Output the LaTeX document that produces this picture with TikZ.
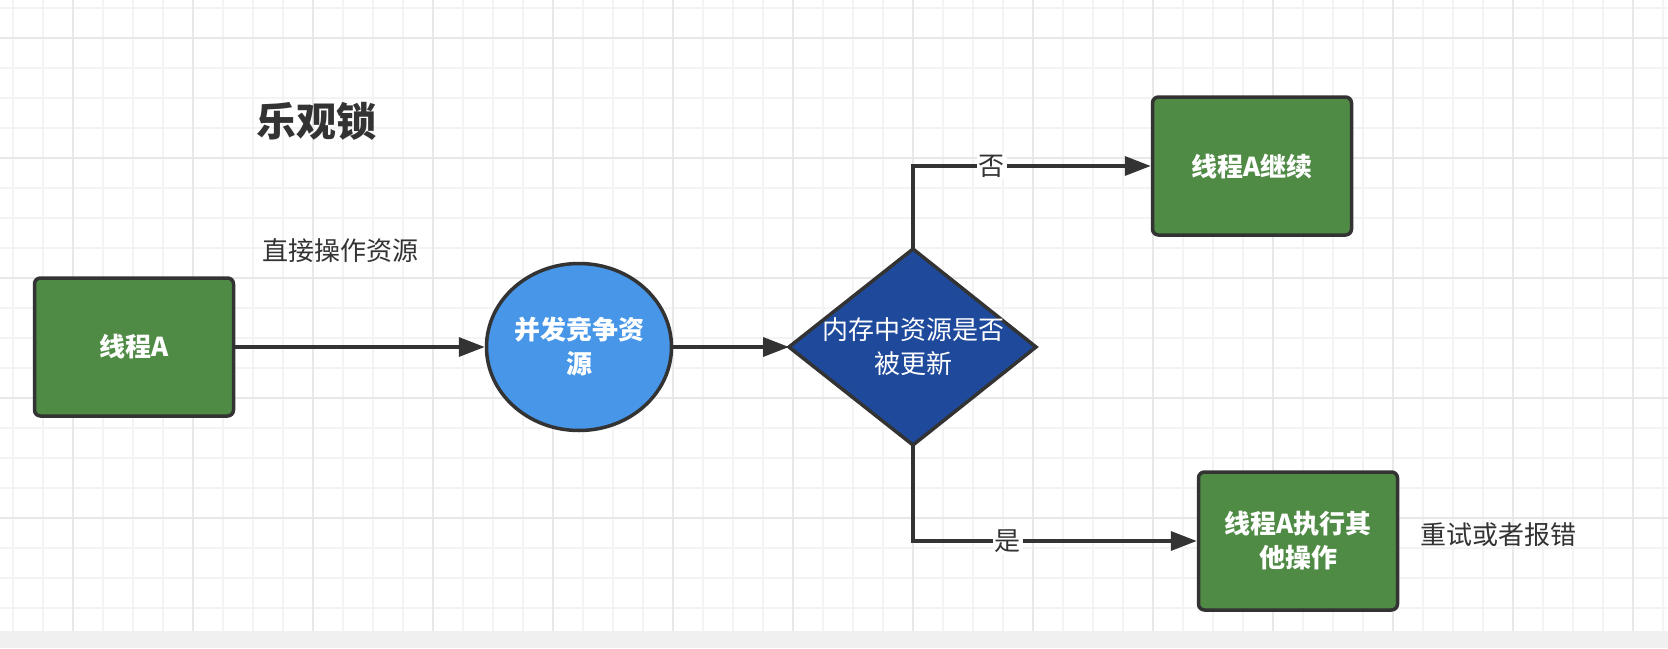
\documentclass[tikz,border=0pt]{standalone}
\usepackage{fontspec}
\setmainfont{Noto Sans CJK SC}
\newfontfamily\cjk{Noto Sans CJK SC}
\usetikzlibrary{shapes.geometric,arrows.meta}
\definecolor{gridminor}{HTML}{F3F3F3}
\definecolor{gridmajor}{HTML}{E8E8E8}
\definecolor{strip}{HTML}{F0F0F0}
\definecolor{ink}{HTML}{333333}
\definecolor{boxgreen}{HTML}{508B46}
\definecolor{lightblue}{HTML}{4796E8}
\definecolor{darkblue}{HTML}{1F4A9C}
\tikzset{
  greenbox/.style={draw=ink, line width=3.5pt, fill=boxgreen, rounded corners=6pt,
    minimum width=199pt, minimum height=138pt, inner sep=0pt, align=center,
    text=white, font=\cjk\bfseries\fontsize{26}{34}\selectfont},
  bluecircle/.style={ellipse, draw=ink, line width=3.5pt, fill=lightblue,
    minimum width=185pt, minimum height=167pt, inner sep=0pt, align=center,
    text=white, font=\cjk\bfseries\fontsize{26}{34}\selectfont},
  plainlabel/.style={text=ink, inner sep=0pt, font=\cjk\fontsize{26}{34}\selectfont},
  edgelabel/.style={text=ink, fill=white, inner sep=2pt, font=\cjk\fontsize{26}{34}\selectfont},
  flow/.style={draw=ink, line width=3.5pt, -{Triangle[length=26pt,width=19pt]}},
}
\begin{document}
\begin{tikzpicture}[x=1pt,y=-1pt]
\useasboundingbox (0,0) rectangle (1668,648);
\fill[white] (0,0) rectangle (1668,631);
% grid
\foreach \gx in {13,43,...,1663} {\draw[gridminor, line width=1.5pt] (\gx,0) -- (\gx,631);}
\foreach \gy in {8,38,...,608} {\draw[gridminor, line width=1.5pt] (0,\gy) -- (1668,\gy);}
\foreach \gx in {73,193,...,1633} {\draw[gridmajor, line width=1.5pt] (\gx,0) -- (\gx,631);}
\foreach \gy in {38,158,...,518} {\draw[gridmajor, line width=1.5pt] (0,\gy) -- (1668,\gy);}
\fill[strip] (0,631) rectangle (1668,648);

% title and free labels
\node[text=ink, inner sep=0pt, font=\cjk\bfseries\fontsize{40}{48}\selectfont] (title) at (316,121) {乐观锁};
\node[plainlabel] (direct) at (340,251) {直接操作资源};
\node[plainlabel] (retry) at (1498,535) {重试或者报错};

% nodes
\node[greenbox] (a) at (134,347) {线程A};
\node[bluecircle] (e) at (579,347) {并发竞争资\\源};
\coordinate (dL) at (789,347);
\coordinate (dR) at (1036,347);
\coordinate (dT) at (913,249);
\coordinate (dB) at (913,445);
\draw[draw=ink, line width=3.5pt, fill=darkblue, line join=miter] (dL) -- (dT) -- (dR) -- (dB) -- cycle;
\node[text=white, align=center, inner sep=0pt, font=\cjk\fontsize{26}{34}\selectfont] (d) at (913,347) {内存中资源是否\\被更新};
\node[greenbox] (b1) at (1252,166) {线程A继续};
\node[greenbox] (b2) at (1298,541) {线程A执行其\\他操作};

% connectors
\draw[flow] (a.east) -- (e.west);
\draw[flow] (e.east) -- (dL);
\draw[flow] (dT) |- (b1.west) node[edgelabel, pos=0.666] {否};
\draw[flow] (dB) |- (b2.west) node[edgelabel, pos=0.667] {是};
\end{tikzpicture}
\end{document}
